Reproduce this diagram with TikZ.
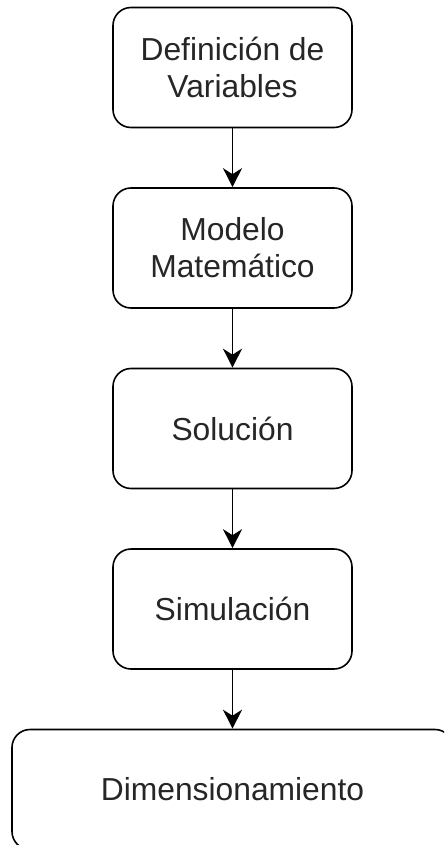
\documentclass[tikz,border=0pt]{standalone}
\usepackage{fontspec}
\setmainfont{Liberation Sans}
\usetikzlibrary{arrows.meta,positioning}

\tikzset{
  paso/.style={draw, line width=1.6pt, rounded corners=18pt, minimum width=239pt, minimum height=120pt,
    align=center, inner sep=0pt, text=black!85, font=\fontsize{31.8}{37}\selectfont},
  flecha/.style={line width=1.6pt, -{Stealth[length=19pt,width=19pt,inset=6pt]}}
}

\begin{document}
\begin{tikzpicture}[x=1pt,y=-1pt]
\useasboundingbox (0,0) rectangle (444,845);
\clip (0,0) rectangle (444,845);
\node[paso] (variables) at (232.5, 67.5) {Definición de\\Variables};
\node[paso] (modelo) at (232.5, 248.0) {Modelo\\Matemático};
\node[paso] (solucion) at (232.5, 428.5) {Solución};
\node[paso] (simulacion) at (232.5, 609.0) {Simulación};
\node[paso, minimum width=441pt] (dimension) at (232.5, 789.5) {Dimensionamiento};
\draw[flecha] (variables) -- (modelo);
\draw[flecha] (modelo) -- (solucion);
\draw[flecha] (solucion) -- (simulacion);
\draw[flecha] (simulacion) -- (dimension);
\end{tikzpicture}
\end{document}
